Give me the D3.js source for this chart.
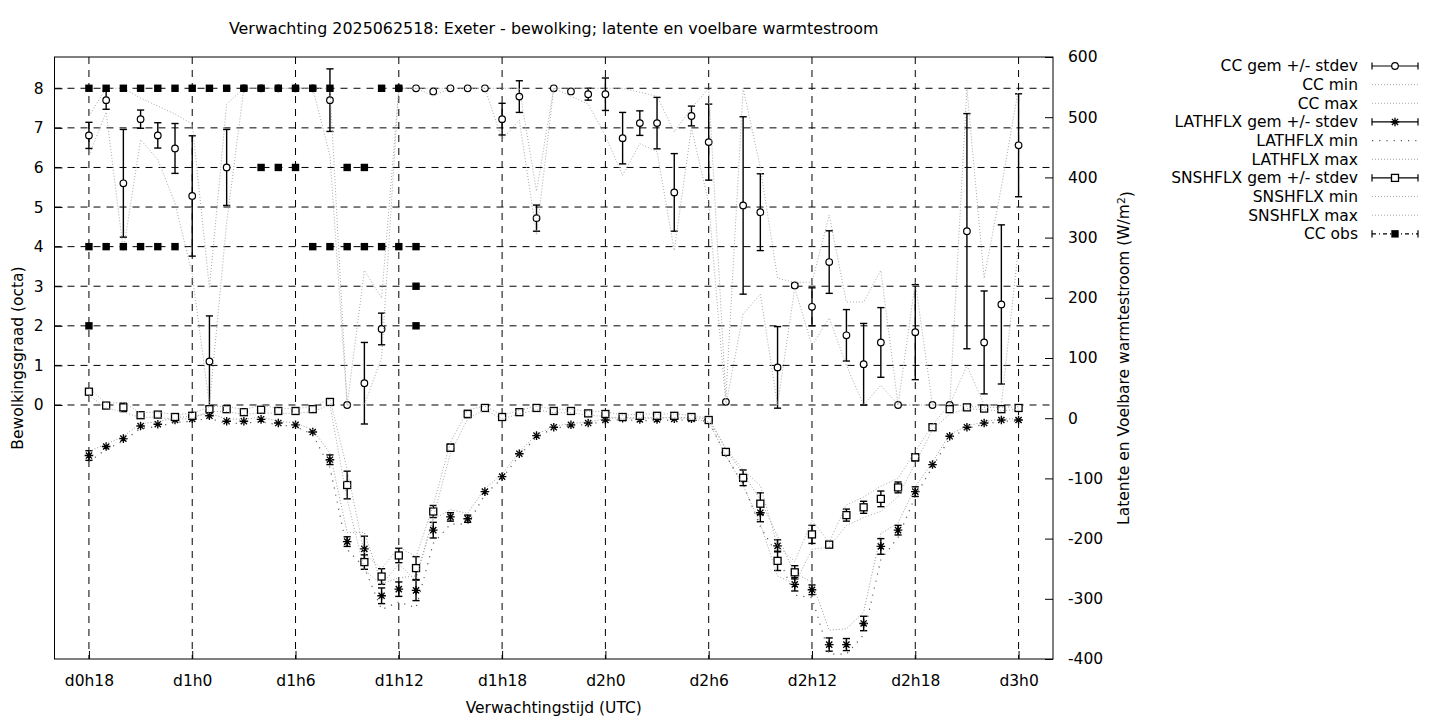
<!DOCTYPE html>
<html>
<head>
<meta charset="utf-8">
<script src="https://cdn.jsdelivr.net/npm/d3@7/dist/d3.min.js"></script>
<style>
  html, body { margin: 0; padding: 0; background: #ffffff; }
  svg { display: block; }
  text { font-family: "DejaVu Sans", sans-serif; fill: #000; }
</style>
</head>
<body>
<svg id="chart" width="1440" height="720"></svg>
<script>
// ---------------- DATA ----------------
const titleText = "Verwachting 2025062518: Exeter - bewolking; latente en voelbare warmtestroom";
const xLabelText = "Verwachtingstijd (UTC)";
const yLabelText = "Bewolkingsgraad (octa)";

const hours = [18,19,20,21,22,23,24,25,26,27,28,29,30,31,32,33,34,35,36,37,38,39,40,41,42,43,44,45,
  46,47,48,49,50,51,52,53,54,55,56,57,58,59,60,61,62,63,64,65,66,67,68,69,70,71,72];

const xTickValues = [18,24,30,36,42,48,54,60,66,72];
const xTickLabels = ["d0h18","d1h0","d1h6","d1h12","d1h18","d2h0","d2h6","d2h12","d2h18","d3h0"];
const yLeftTicks = [0,1,2,3,4,5,6,7,8];
const yRightTicks = [-400,-300,-200,-100,0,100,200,300,400,500,600];

// Cloud cover (octa), left axis
const ccMean = [6.81,7.70,5.60,7.22,6.81,6.48,5.28,1.10,6.00,8,8,8,8,8,7.70,0,0.55,1.92,8,8,7.92,8,8,8,
  7.22,7.79,4.72,8,7.92,7.85,7.85,6.74,7.12,7.12,5.37,7.30,6.64,0.08,5.04,4.87,0.95,3.02,2.48,3.61,1.76,
  1.03,1.58,0,1.84,0,0,4.39,1.58,2.54,6.56];
const ccSd = [0.33,0.23,1.36,0.23,0.32,0.63,1.52,1.15,0.96,0,0,0,0,0,0.79,0,1.03,0.40,0,0,0,0,0,0,
  0.40,0.40,0.33,0,0,0.15,0.41,0.65,0.31,0.65,0.98,0.25,0.96,0,2.24,0.97,1.03,0.05,0.48,0.79,0.65,
  1.03,0.88,0,1.20,0,0,2.97,1.30,2.01,1.30];
const ccMin = [6.3,7.4,3.9,6.7,6.2,5.1,3.3,0,4.6,8,8,8,8,8,6.3,0,0,1.2,8,8,7.8,8,8,8,
  6.7,7.2,4.3,8,7.8,7.6,6.8,5.8,6.6,6.4,3.9,7.0,5.1,0,2.3,2.8,0,2.95,1.5,2.2,1.0,
  0,0.5,0,0,0,0,1.0,0,0,4.0];
const ccMax = [7.3,8,8,7.75,7.55,7.35,7.1,2.95,7.6,8,8,8,8,8,8,0,3.4,2.7,8,8,8,8,8,8,
  8,8,5.4,8,8,8,8,8,7.9,7.8,6.9,7.5,8,0.2,8,6.0,3.2,3.1,3.1,4.8,2.6,
  2.6,3.4,0,3.1,0,0,8,3.2,5.5,8];

// Latent heat flux (W/m2), right axis
const latMean = [-62,-47,-34,-13,-10,-3,-1,4,-5,-5,-2,-8,-11,-23,-69,-205,-217,-295,-284,-286,-186,-164,
  -167,-122,-97,-59,-29,-15,-11,-8,-3,0,-2,-2,-1,-1,-3,-57,-100,-157,-212,-276,-285,-376,-376,-341,
  -213,-186,-122,-77,-30,-15,-8,-3,-3];
const latSd = [8,0,0,0,0,0,0,0,0,0,0,0,0,0,8,8,21,13,12,17,13,7,6,0,0,0,0,0,0,0,0,0,0,0,0,0,0,0,
  5,15,10,11,8,11,10,12,13,8,8,0,0,0,0,0,0];
const latMin = [-72,-52,-38,-17,-14,-7,-5,0,-9,-8,-6,-11,-14,-27,-82,-218,-248,-318,-305,-315,-208,-176,
  -176,-127,-100,-62,-31,-17,-13,-10,-5,-2,-4,-4,-3,-3,-5,-62,-110,-180,-228,-294,-298,-392,-392,-360,
  -235,-198,-130,-81,-33,-17,-10,-5,-5];
const latMax = [-55,-43,-30,-9,-6,1,3,8,-1,-2,2,-5,-8,-19,-58,-190,-190,-275,-265,-262,-168,-152,
  -158,-117,-93,-56,-27,-13,-9,-6,-1,2,0,0,1,1,-1,-52,-92,-135,-196,-258,-272,-352,-350,-322,
  -192,-174,-114,-73,-27,-13,-6,-1,-1];

// Sensible heat flux (W/m2), right axis
const snsMean = [44,21,18,5,6,2,4,15,15,10,14,12,12,15,27,-111,-239,-263,-228,-249,-155,-49,7,17,2,10,
  17,12,12,8,7,2,4,4,4,2,-3,-56,-99,-142,-237,-256,-193,-210,-161,-148,-134,-115,-65,-15,15,18,16,15,17];
const snsSd = [0,0,7,0,0,0,0,5,0,0,5,0,0,0,0,23,12,13,12,19,10,6,6,0,0,0,0,0,0,0,5,0,0,0,0,0,0,
  0,13,18,16,11,15,5,10,10,13,9,6,5,0,0,0,0,0];
const snsMin = [38,17,10,1,2,-2,0,11,11,6,9,8,8,11,22,-135,-252,-277,-242,-270,-165,-58,-1,14,-1,7,
  14,9,9,5,3,-1,1,1,1,-1,-6,-62,-112,-175,-262,-275,-218,-214,-178,-165,-155,-130,-75,-19,7,16,14,12,15];
const snsMax = [50,25,26,9,10,6,8,19,20,14,22,16,16,19,32,-85,-225,-250,-214,-230,-145,-40,14,20,5,13,
  20,15,15,11,11,5,7,7,7,5,0,-50,-86,-112,-212,-238,-170,-206,-144,-131,-113,-100,-55,-11,23,20,18,18,19];

// Observed cloud cover (octa)
const obsHour = [18,18,18,19,19,20,20,21,21,22,22,23,23,24,25,26,27,28,28,29,29,30,30,31,31,32,32,
  33,33,34,34,35,35,36,36,37,37,37];
const obsValue = [8,4,2,8,4,8,4,8,4,8,4,8,4,8,8,8,8,8,6,8,6,8,6,8,4,8,4,6,4,6,4,8,4,8,4,4,3,2];

const legendLabels = ["CC gem +/- stdev","CC min","CC max","LATHFLX gem +/- stdev","LATHFLX min",
  "LATHFLX max","SNSHFLX gem +/- stdev","SNSHFLX min","SNSHFLX max","CC obs"];

// ---------------- LAYOUT ----------------
const W = 1440, H = 720;
const P = { left: 54.5, right: 1053, top: 57, bottom: 659 };
const FS = 15.5;

const svg = d3.select("#chart");
svg.append("rect").attr("x",0).attr("y",0).attr("width",W).attr("height",H).attr("fill","#fff");

const x = d3.scaleLinear().domain([16, 74]).range([P.left, P.right]);
const yL = d3.scaleLinear().domain([-6.416, 8.79]).range([P.bottom, P.top]);
const yR = d3.scaleLinear().domain([-400, 600]).range([P.bottom, P.top]);

// ---------------- GRID ----------------
const grid = svg.append("g").attr("stroke","#000").attr("stroke-width",1).attr("stroke-dasharray","7,6").attr("fill","none");
xTickValues.forEach(t => {
  grid.append("line").attr("x1",x(t)).attr("x2",x(t)).attr("y1",P.top).attr("y2",P.bottom);
});
yLeftTicks.forEach(t => {
  grid.append("line").attr("x1",P.left).attr("x2",P.right).attr("y1",yL(t)).attr("y2",yL(t));
});

// ---------------- HELPERS ----------------
const styles = {
  ccMinMax: { stroke: "#a8a8a8", width: 1, dash: "1,2" },
  latMin:   { stroke: "#5a5a5a", width: 1.2, dash: "1.2,6" },
  latMax:   { stroke: "#9a9a9a", width: 1, dash: "1,2" },
  snsMinMax:{ stroke: "#a8a8a8", width: 1, dash: "1,2" }
};

function asteriskPath(s) {
  const k = s * 0.72;
  return `M${-s},0L${s},0M0,${-s}L0,${s}M${-k},${-k}L${k},${k}M${-k},${k}L${k},${-k}`;
}

function drawMarker(g, type, cx, cy) {
  if (type === "circle") {
    g.append("circle").attr("cx",cx).attr("cy",cy).attr("r",3.3)
      .attr("fill","#fff").attr("stroke","#000").attr("stroke-width",1.2);
  } else if (type === "square") {
    g.append("rect").attr("x",cx-3.5).attr("y",cy-3.5).attr("width",7).attr("height",7)
      .attr("fill","#fff").attr("stroke","#000").attr("stroke-width",1.3);
  } else if (type === "fsquare") {
    g.append("rect").attr("x",cx-3.7).attr("y",cy-3.7).attr("width",7.4).attr("height",7.4)
      .attr("fill","#000").attr("stroke","none");
  } else if (type === "asterisk") {
    g.append("path").attr("transform",`translate(${cx},${cy})`).attr("d",asteriskPath(4.3))
      .attr("fill","none").attr("stroke","#000").attr("stroke-width",1.35);
  }
}

function drawErrorSeries(mean, sd, yScale, marker) {
  const g = svg.append("g");
  const eg = g.append("g").attr("stroke","#000").attr("stroke-width",1.4).attr("fill","none");
  hours.forEach((h, i) => {
    if (sd[i] > 0) {
      const cx = x(h), y1 = yScale(mean[i] - sd[i]), y2 = yScale(mean[i] + sd[i]);
      eg.append("line").attr("x1",cx).attr("x2",cx).attr("y1",y1).attr("y2",y2);
      eg.append("line").attr("x1",cx-3.6).attr("x2",cx+3.6).attr("y1",y1).attr("y2",y1);
      eg.append("line").attr("x1",cx-3.6).attr("x2",cx+3.6).attr("y1",y2).attr("y2",y2);
    }
  });
  const mg = g.append("g");
  hours.forEach((h, i) => drawMarker(mg, marker, x(h), yScale(mean[i])));
}

function drawLine(values, yScale, st) {
  const line = d3.line().x((d,i) => x(hours[i])).y(d => yScale(d));
  svg.append("path").attr("d", line(values)).attr("fill","none")
    .attr("stroke", st.stroke).attr("stroke-width", st.width).attr("stroke-dasharray", st.dash);
}

// ---------------- SERIES (gnuplot order) ----------------
drawErrorSeries(ccMean, ccSd, yL, "circle");
drawLine(ccMin, yL, styles.ccMinMax);
drawLine(ccMax, yL, styles.ccMinMax);
drawErrorSeries(latMean, latSd, yR, "asterisk");
drawLine(latMin, yR, styles.latMin);
drawLine(latMax, yR, styles.latMax);
drawErrorSeries(snsMean, snsSd, yR, "square");
drawLine(snsMin, yR, styles.snsMinMax);
drawLine(snsMax, yR, styles.snsMinMax);

const og = svg.append("g");
obsHour.forEach((h, i) => drawMarker(og, "fsquare", x(h), yL(obsValue[i])));

// ---------------- AXES ----------------
const plainFmt = d => String(d);
const axB = d3.axisBottom(x).tickValues(xTickValues).tickFormat((d,i) => xTickLabels[i])
  .tickSizeInner(-8).tickSizeOuter(0).tickPadding(16);
const axL = d3.axisLeft(yL).tickValues(yLeftTicks).tickFormat(plainFmt)
  .tickSizeInner(-8).tickSizeOuter(0).tickPadding(11);
const axR = d3.axisRight(yR).tickValues(yRightTicks).tickFormat(plainFmt)
  .tickSizeInner(-8).tickSizeOuter(0).tickPadding(15);

function styleAxis(g) {
  g.select(".domain").remove();
  g.selectAll(".tick line").attr("stroke","#000").attr("stroke-width",1);
  g.selectAll(".tick text").attr("font-size",FS).attr("font-family","DejaVu Sans").attr("fill","#000");
}
svg.append("g").attr("transform",`translate(0,${P.bottom})`).call(axB).call(styleAxis);
svg.append("g").attr("transform",`translate(${P.left},0)`).call(axL).call(styleAxis);
svg.append("g").attr("transform",`translate(${P.right},0)`).call(axR).call(styleAxis);

// frame
svg.append("rect").attr("x",P.left).attr("y",P.top).attr("width",P.right-P.left).attr("height",P.bottom-P.top)
  .attr("fill","none").attr("stroke","#000").attr("stroke-width",1);

// ---------------- TEXT ----------------
svg.append("text").attr("x",(P.left+P.right)/2).attr("y",34).attr("text-anchor","middle")
  .attr("font-size",15.9).text(titleText);
svg.append("text").attr("x",(P.left+P.right)/2).attr("y",713).attr("text-anchor","middle")
  .attr("font-size",FS).text(xLabelText);
svg.append("text").attr("transform",`translate(18,${(P.top+P.bottom)/2}) rotate(-90)`)
  .attr("text-anchor","middle").attr("dy","0.35em").attr("font-size",FS).text(yLabelText);
const y2t = svg.append("text").attr("transform",`translate(1124,${(P.top+P.bottom)/2}) rotate(-90)`)
  .attr("text-anchor","middle").attr("dy","0.35em").attr("font-size",FS);
y2t.append("tspan").text("Latente en Voelbare warmtestroom (W/m");
y2t.append("tspan").attr("dy","-0.45em").attr("font-size",FS*0.7).text("2");
y2t.append("tspan").attr("dy","0.45em").text(")");

// ---------------- LEGEND ----------------
const legTextX = 1358, sx1 = 1372, sx2 = 1418, ly0 = 66, lstep = 18.65;
const legendKinds = [
  {kind:"err", marker:"circle"},
  {kind:"line", st: styles.ccMinMax},
  {kind:"line", st: styles.ccMinMax},
  {kind:"err", marker:"asterisk"},
  {kind:"line", st: styles.latMin},
  {kind:"line", st: styles.latMax},
  {kind:"err", marker:"square"},
  {kind:"line", st: styles.snsMinMax},
  {kind:"line", st: styles.snsMinMax},
  {kind:"obs", marker:"fsquare"}
];
const lg = svg.append("g");
legendLabels.forEach((lab, i) => {
  const yy = ly0 + i * lstep;
  lg.append("text").attr("x",legTextX).attr("y",yy).attr("dy","0.35em").attr("text-anchor","end")
    .attr("font-size",FS).text(lab);
  const k = legendKinds[i];
  if (k.kind === "line") {
    lg.append("line").attr("x1",sx1).attr("x2",sx2).attr("y1",yy).attr("y2",yy)
      .attr("stroke",k.st.stroke).attr("stroke-width",k.st.width).attr("stroke-dasharray",k.st.dash);
  } else {
    const ln = lg.append("line").attr("x1",sx1).attr("x2",sx2).attr("y1",yy).attr("y2",yy)
      .attr("stroke","#000").attr("stroke-width",1.2);
    if (k.kind === "obs") ln.attr("stroke-dasharray","4,3,1,3");
    [sx1, sx2].forEach(cx => lg.append("line").attr("x1",cx).attr("x2",cx).attr("y1",yy-3.6).attr("y2",yy+3.6)
      .attr("stroke","#000").attr("stroke-width",1.2));
    drawMarker(lg, k.marker, (sx1+sx2)/2, yy);
  }
});
</script>
</body>
</html>
